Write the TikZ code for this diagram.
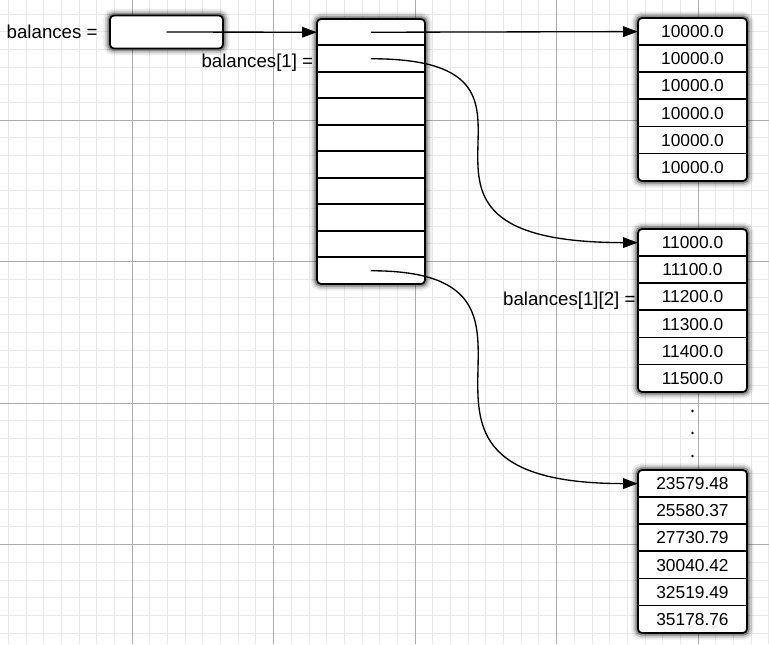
\documentclass[tikz,border=0pt]{standalone}
\usepackage{fontspec}
\setmainfont{Liberation Sans}
\usepackage{tikz}
\usetikzlibrary{arrows.meta, positioning}

\begin{document}
\begin{tikzpicture}[
    x=0.75pt, y=-0.75pt,
    frame/.style={draw, line width=1.3pt, rounded corners=3pt, fill=white,
                  inner sep=0pt,
                  preaction={draw=black, line width=10pt, opacity=0.08},
                  preaction={draw=black, line width=7pt, opacity=0.15},
                  preaction={draw=black, line width=4pt, opacity=0.3}},
    cell/.style={inner sep=0pt, font=\fontsize{13}{15}\selectfont},
    lbl/.style={inner sep=0pt, font=\fontsize{14}{16}\selectfont},
    divider/.style={line width=1.25pt},
    minorline/.style={gray!18, line width=0.5pt},
    majorline/.style={gray!65, line width=0.7pt},
    ptr/.style={line width=1pt, -{Triangle[length=11pt,width=8pt]}}
]
\useasboundingbox (0,0) rectangle (769,644);
% ============== background grid ==================
\foreach \k in {-7,...,36}
  \draw[minorline] ({132+17.6875*\k},0) -- ({132+17.6875*\k},644);
\foreach \k in {-6,...,29}
  \draw[minorline] (0,{120+17.6875*\k}) -- (769,{120+17.6875*\k});
\foreach \k in {0,...,4}
  \draw[majorline] ({132+141.5*\k},0) -- ({132+141.5*\k},644);
\foreach \k in {0,...,3}
  \draw[majorline] (0,{120+141.5*\k}) -- (769,{120+141.5*\k});

% ============== variable and array of rows ==================
\node[frame, minimum width=84.75pt, minimum height=24.75pt] (var) at (166.5,32) {};
\node[lbl, left=8.5pt of var] (varname) {balances =};

\node[frame, minimum width=81pt, minimum height=198.75pt] (rows) at (371,151.5) {};
\foreach \i in {1,...,10}
  \node[cell, minimum width=81pt, minimum height=19.875pt] (row\i)
    at (371,{19+26.5*(\i-0.5)}) {};
\foreach \i in {2,...,10}
  \draw[divider] (row\i.north west) -- (row\i.north east);
\node[lbl, left=2.5pt of row2, yshift=-3pt] (rowname) {balances[1] =};

% ============== the row arrays ==================
\node[frame, minimum width=81.75pt, minimum height=122.25pt] (acctA) at (692.5,99.5) {};
\foreach \v [count=\i] in {10000.0,10000.0,10000.0,10000.0,10000.0,10000.0}
  \node[cell, minimum width=81.75pt, minimum height=20.375pt] (a\i)
    at (692.5,{18+27.17*(\i-0.5)}) {\v};

\node[frame, minimum width=81.75pt, minimum height=122.25pt] (acctB) at (692.5,310.5) {};
\foreach \v [count=\i] in {11000.0,11100.0,11200.0,11300.0,11400.0,11500.0}
  \node[cell, minimum width=81.75pt, minimum height=20.375pt] (b\i)
    at (692.5,{229+27.17*(\i-0.5)}) {\v};

\node[frame, minimum width=81.75pt, minimum height=122.25pt] (acctC) at (692.5,551.5) {};
\foreach \v [count=\i] in {23579.48,25580.37,27730.79,30040.42,32519.49,35178.76}
  \node[cell, minimum width=81.75pt, minimum height=20.375pt] (c\i)
    at (692.5,{470+27.17*(\i-0.5)}) {\v};

\foreach \i in {2,...,6} {
  \draw[divider] (a\i.north west) -- (a\i.north east);
  \draw[divider] (b\i.north west) -- (b\i.north east);
  \draw[divider] (c\i.north west) -- (c\i.north east);
}
\node[lbl, left=1.5pt of b3, yshift=-2.5pt] (elemname) {balances[1][2] =};

% the rows left out
\foreach \y in {411,433,456}
  \fill (692.5,\y) circle (1.1pt);

% ============== references ==================
\draw[ptr] (var.center) -- (row1.west);
\draw[ptr] (row1.center) -- (a1.west);
\draw[ptr] (row2.center) .. controls +(230,0) and +(-296,0) .. (b1.west);
\draw[ptr] (row10.center) .. controls +(230,0) and +(-296,0) .. (c1.west);
\end{tikzpicture}
\end{document}
